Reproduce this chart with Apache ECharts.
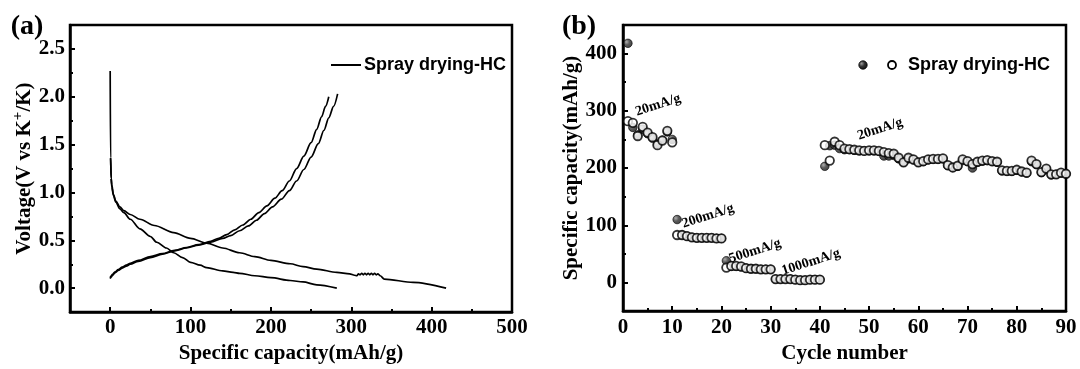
<!DOCTYPE html>
<html><head><meta charset="utf-8">
<script src="https://cdn.jsdelivr.net/npm/echarts@6/dist/echarts.min.js"></script>
<style>html,body{margin:0;padding:0;background:#fff}#c{width:1080px;height:369px}</style>
</head><body><div id="c"></div>
<script>
// ---------- Panel (a): voltage profiles [capacity mAh/g, voltage V] ----------
const discharge1 = [[0,2.27],[0.5,1.36],[1.2,1.15],[2,1.08],[4,0.98],[7,0.91],[12,0.85],[17,0.81],[25,0.77],[37,0.72],[55,0.655],[79,0.58],[100,0.52],[120,0.47],[140,0.42],[161,0.37],[180,0.33],[200,0.29],[224,0.255],[240,0.225],[257,0.2],[282,0.165],[298,0.15],[304,0.135],[307,0.13],[309,0.15],[311,0.14],[313,0.155],[315,0.14],[317,0.155],[319,0.14],[321,0.155],[323,0.14],[325,0.155],[327,0.14],[329,0.155],[331,0.14],[333,0.15],[336,0.13],[341,0.095],[377,0.06],[418,0.0]];
const discharge2 = [[0.6,1.36],[1.2,1.15],[2,1.06],[4,0.97],[7,0.9],[12,0.83],[17,0.79],[25,0.72],[37,0.62],[50,0.54],[58,0.48],[70,0.42],[79,0.37],[90,0.32],[100,0.27],[112,0.24],[120,0.215],[140,0.18],[153,0.165],[161,0.155],[180,0.13],[200,0.11],[224,0.08],[240,0.065],[257,0.035],[282,0.0]];
const charge1 = [[0,0.10],[1,0.115],[3,0.135],[6,0.16],[10,0.185],[15,0.21],[20,0.23],[25,0.25],[35,0.28],[50,0.32],[65,0.355],[80,0.39],[95,0.42],[110,0.45],[125,0.48],[140,0.52],[150,0.55],[161,0.6],[172,0.65],[182,0.71],[192,0.78],[202,0.85],[213,0.93],[223,1.02],[232,1.12],[241,1.24],[250,1.37],[259,1.51],[266,1.65],[272,1.78],[278,1.9],[283,2.03]];
const charge2 = [[0,0.11],[1,0.125],[3,0.145],[6,0.17],[10,0.195],[15,0.22],[20,0.24],[25,0.26],[35,0.29],[50,0.33],[65,0.36],[80,0.395],[95,0.425],[110,0.455],[125,0.49],[135,0.52],[145,0.56],[155,0.61],[165,0.66],[175,0.72],[185,0.79],[195,0.86],[205,0.94],[214,1.02],[223,1.12],[232,1.25],[241,1.38],[250,1.52],[257,1.66],[263,1.79],[268,1.9],[272,2.0]];
const capTicksA = [0,100,200,300,400,500];
const capMinorA = [50,150,250,350,450];
const voltTicks = [0,0.5,1.0,1.5,2.0,2.5];
const voltMinor = [0.25,0.75,1.25,1.75,2.25];

// ---------- Panel (b): rate performance ----------
const cycles = [1,2,3,4,5,6,7,8,9,10,11,12,13,14,15,16,17,18,19,20,21,22,23,24,25,26,27,28,29,30,31,32,33,34,35,36,37,38,39,40,41,42,43,44,45,46,47,48,49,50,51,52,53,54,55,56,57,58,59,60,61,62,63,64,65,66,67,68,69,70,71,72,73,74,75,76,77,78,79,80,81,82,83,84,85,86,87,88,89,90];
const dischargeCap = [418,271,258,268,260,252,242,249,263,250, 110,83,81,79,78,78,78,78,77,77, 38,28,28,27,25,24,24,23,23,23, 6,6,6,6,5,4,4,5,5,5, 203,239,240,234,232,232,231,230,230,230, 230,229,221,221,222,216,210,216,214,210, 211,214,215,215,216,204,201,203,213,211, 200,210,212,213,211,210,195,194,194,196, 193,191,211,206,192,198,188,189,191,190];
const chargeCap = [282,279,256,272,262,254,240,248,265,245, 83,83,81,79,78,78,78,78,77,77, 26,29,29,28,25,24,24,23,23,23, 6,6,6,6,5,4,4,5,5,5, 240,213,246,240,234,233,232,231,230,231, 231,230,228,226,225,218,210,218,215,210, 212,215,216,216,217,205,201,204,215,212, 207,211,213,214,212,211,196,195,195,197, 194,192,213,207,193,199,189,189,192,190];
const cycleTicks = [0,10,20,30,40,50,60,70,80,90];
const cycleMinor = [5,15,25,35,45,55,65,75,85];
const capTicksB = [0,100,200,300,400];
const capMinorB = [50,150,250,350];
const rateLabels = ['20mA/g','200mA/g','500mA/g','1000mA/g','20mA/g'];
const legendName = 'Spray drying-HC';

const SERIF = "'Liberation Serif','Times New Roman',serif";
const SANS = "'Liberation Sans',Arial,sans-serif";
const lblStyle = {color:'#000', fontFamily:SERIF, fontWeight:'bold', fontSize:21};
const nameStyle = {color:'#000', fontFamily:SERIF, fontWeight:'bold', fontSize:21};

function majorAxis(grid, min, max, ticks, fmt, name, gap, margin, extra) {
  return Object.assign({
    type:'value', gridIndex:grid, min:min, max:max,
    axisLine:{show:true, onZero:false, lineStyle:{color:'#000', width:2.5}},
    axisTick:{show:true, inside:true, length:5, customValues:ticks, lineStyle:{color:'#000', width:2}},
    axisLabel:Object.assign({customValues:ticks, margin:margin, formatter:fmt}, lblStyle),
    splitLine:{show:false},
    name:name, nameLocation:'middle', nameGap:gap, nameTextStyle:nameStyle
  }, extra||{});
}
function minorAxis(grid, min, max, ticks, extra) {
  return Object.assign({
    type:'value', gridIndex:grid, min:min, max:max,
    axisLine:{show:false, onZero:false},
    axisTick:{show:true, inside:true, length:3, customValues:ticks, lineStyle:{color:'#000', width:2}},
    axisLabel:{show:false}, splitLine:{show:false}
  }, extra||{});
}

const chart = echarts.init(document.getElementById('c'), null, {renderer:'canvas'});
const lineStyle = {color:'#000', width:1.7};
const ball = new echarts.graphic.RadialGradient(0.35,0.35,0.7,[{offset:0,color:'#9a9a9a'},{offset:0.45,color:'#333'},{offset:1,color:'#111'}]);
const curve = (d)=>({type:'line', xAxisIndex:0, yAxisIndex:0, data:d, showSymbol:false, lineStyle:lineStyle, smooth:0.3, smoothMonotone:'x'});

const option = {
  animation:false,
  backgroundColor:'#fff',
  grid:[
    {left:70, top:25, width:442, height:295, show:true, borderColor:'#000', borderWidth:2.5, containLabel:false},
    {left:623, top:25, width:443, height:295, show:true, borderColor:'#000', borderWidth:2.5, containLabel:false}
  ],
  xAxis:[
    majorAxis(0,-50,500,capTicksA, v=>String(v),'Specific capacity(mAh/g)',18,5,{position:'bottom'}),
    minorAxis(0,-50,500,capMinorA,{position:'bottom'}),
    majorAxis(1,0,90,cycleTicks, v=>String(v),'Cycle number',18,6,{position:'bottom'}),
    minorAxis(1,0,90,cycleMinor,{position:'bottom'})
  ],
  yAxis:[
    majorAxis(0,-0.25,2.75,voltTicks, v=>v.toFixed(1),'{a|Voltage(V vs K}{s|+}{a|/K)}',32,5,{position:'left',
      nameTextStyle:Object.assign({}, nameStyle, {rich:{
        a:{color:'#000', fontFamily:SERIF, fontWeight:'bold', fontSize:21},
        s:{color:'#000', fontFamily:SERIF, fontWeight:'bold', fontSize:15, padding:[0,0,12,0]}
      }})}),
    minorAxis(0,-0.25,2.75,voltMinor,{position:'left'}),
    majorAxis(1,-50,450,capTicksB, v=>String(v),'Specific capacity(mAh/g)',38,6,{position:'left'}),
    minorAxis(1,-50,450,capMinorB,{position:'left'})
  ],
  series:[
    curve(discharge1), curve(discharge2), curve(charge1), curve(charge2),
    {type:'scatter', xAxisIndex:2, yAxisIndex:2, clip:false, symbol:'circle', symbolSize:8.5,
      data:cycles.map((c,i)=>[c,dischargeCap[i]]),
      itemStyle:{color:ball, borderColor:'#000', borderWidth:0.8}},
    {type:'scatter', xAxisIndex:2, yAxisIndex:2, clip:false, symbol:'circle', symbolSize:8.5,
      data:cycles.map((c,i)=>[c,chargeCap[i]]),
      itemStyle:{color:'#fff', borderColor:'#000', borderWidth:1.8}}
  ],
  graphic:[
    {type:'text', x:27, y:27, style:{text:'(a)', font:"bold 28px "+SERIF, fill:'#000', align:'center', verticalAlign:'middle'}},
    {type:'text', x:579, y:27, style:{text:'(b)', font:"bold 28px "+SERIF, fill:'#000', align:'center', verticalAlign:'middle'}},
    {type:'line', shape:{x1:331, y1:65, x2:361, y2:65}, style:{stroke:'#000', lineWidth:2}},
    {type:'text', x:364, y:65, style:{text:legendName, font:"bold 18px "+SANS, fill:'#000', align:'left', verticalAlign:'middle'}},
    {type:'circle', shape:{cx:863, cy:65, r:4.2}, style:{fill:ball, stroke:'#000', lineWidth:0.8}},
    {type:'circle', shape:{cx:892, cy:65, r:4}, style:{fill:'#fff', stroke:'#000', lineWidth:1.8}},
    {type:'text', x:908, y:65, style:{text:legendName, font:"bold 18px "+SANS, fill:'#000', align:'left', verticalAlign:'middle'}},
    {type:'text', x:658, y:105, rotation:18*Math.PI/180, style:{text:rateLabels[0], font:"bold 14px "+SERIF, fill:'#000', align:'center', verticalAlign:'middle'}},
    {type:'text', x:708, y:216, rotation:18*Math.PI/180, style:{text:rateLabels[1], font:"bold 14px "+SERIF, fill:'#000', align:'center', verticalAlign:'middle'}},
    {type:'text', x:755, y:251, rotation:18*Math.PI/180, style:{text:rateLabels[2], font:"bold 14px "+SERIF, fill:'#000', align:'center', verticalAlign:'middle'}},
    {type:'text', x:811, y:262, rotation:18*Math.PI/180, style:{text:rateLabels[3], font:"bold 14px "+SERIF, fill:'#000', align:'center', verticalAlign:'middle'}},
    {type:'text', x:880, y:129, rotation:18*Math.PI/180, style:{text:rateLabels[4], font:"bold 14px "+SERIF, fill:'#000', align:'center', verticalAlign:'middle'}}
  ]
};
chart.setOption(option);
</script></body></html>
